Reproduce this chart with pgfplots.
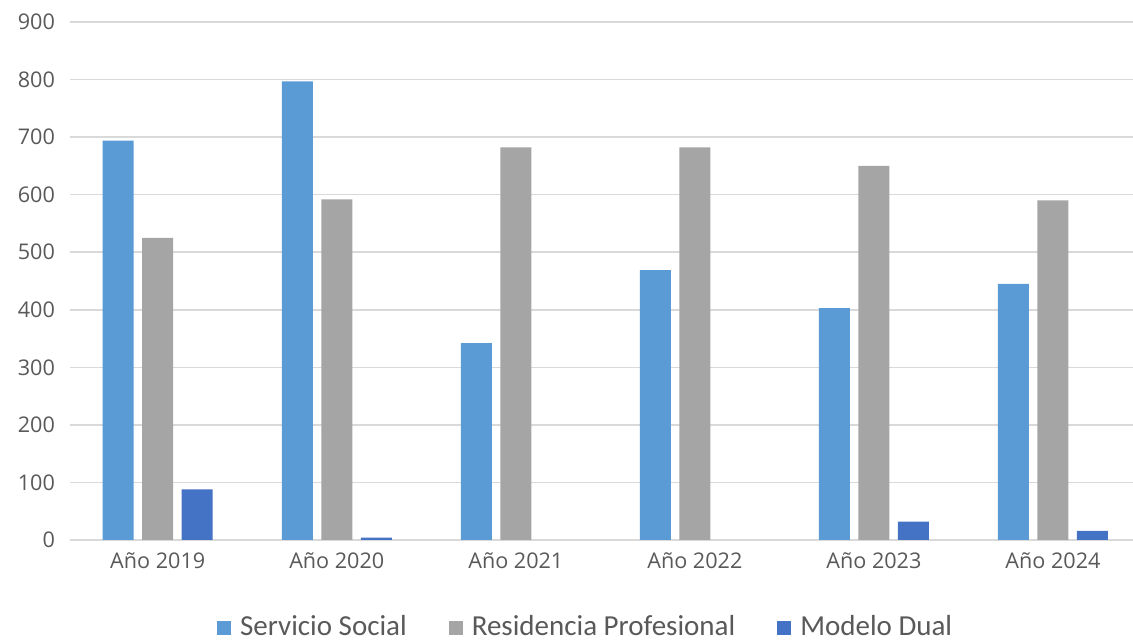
\documentclass[border=0pt]{standalone}
\usepackage{pgfplots}
\pgfplotsset{compat=1.18}
\usepackage{fontspec}
\setmainfont{Open Sans}
\newfontfamily\legfont{Carlito}
\definecolor{cSS}{HTML}{5B9BD5}
\definecolor{cRP}{HTML}{A5A5A5}
\definecolor{cMD}{HTML}{4472C4}
\definecolor{cGrid}{HTML}{D9D9D9}
\definecolor{cTxt}{HTML}{595959}
\begin{document}
\begin{tikzpicture}
\useasboundingbox (0,0) rectangle (566.5pt,320pt);
\begin{axis}[
  at={(35pt,50pt)}, anchor=south west,
  scale only axis,
  width=531.5pt, height=259pt,
  xmin=-0.49, xmax=5.447,
  ymin=0, ymax=900,
  ytick={0,100,...,900},
  xtick={0,1,2,3,4,5},
  xticklabels={Año 2019,Año 2020,Año 2021,Año 2022,Año 2023,Año 2024},
  ymajorgrids, grid style={cGrid, line width=0.8pt},
  axis line style={draw=none},
  major tick length=0pt,
  tick label style={font=\fontsize{10.8}{13}\selectfont, text=cTxt},
  /pgf/number format/assume math mode=true,
  yticklabel style={xshift=-4pt},
  xticklabel style={yshift=-3pt},
  ybar, bar width=15.5pt,
  legend style={draw=none, fill=none, at={(0.486,-0.168)}, anchor=center,
    legend columns=3, font=\legfont\fontsize{14.5}{17}\selectfont, text=cTxt,
    /tikz/every even column/.append style={column sep=19pt}},
  legend image code/.code={\fill[#1] (0pt,-4pt) rectangle (7pt,3pt);},
]
\addplot[fill=cSS, draw=none, bar shift=-19.75pt] coordinates {(0,694) (1,797) (2,342) (3,469) (4,403) (5,445)};
\addlegendentry{\hspace{2.5pt}Servicio Social}
\addplot[fill=cRP, draw=none, bar shift=0pt] coordinates {(0,525) (1,592) (2,682) (3,682) (4,650) (5,590)};
\addlegendentry{\hspace{2.5pt}Residencia Profesional}
\addplot[fill=cMD, draw=none, bar shift=19.75pt] coordinates {(0,88) (1,4) (4,32) (5,16)};
\addlegendentry{\hspace{2.5pt}Modelo Dual}
\end{axis}
\end{tikzpicture}
\end{document}
